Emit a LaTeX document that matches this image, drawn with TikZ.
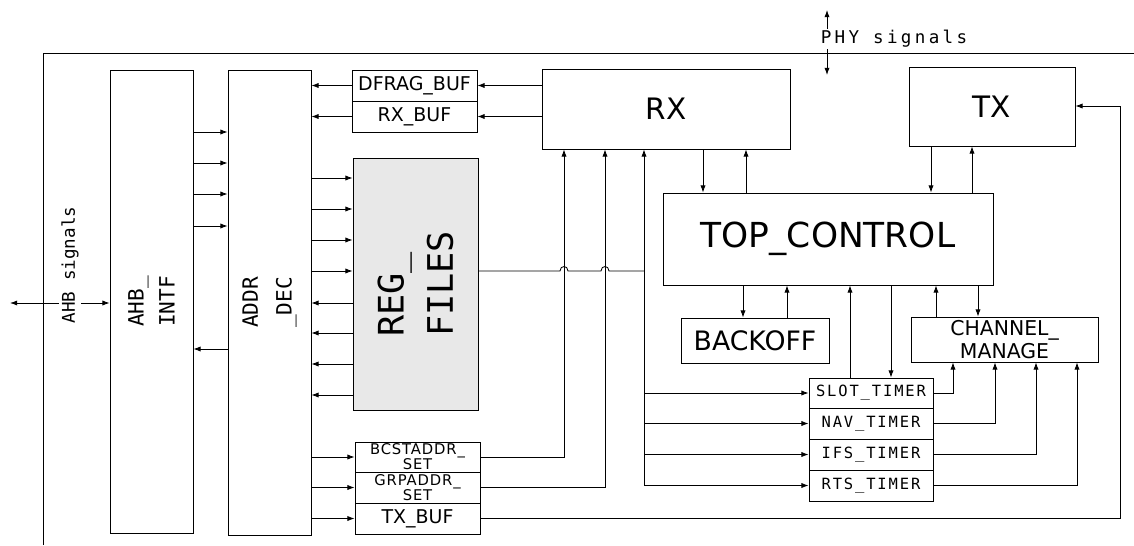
\documentclass[tikz,border=0pt]{standalone}
\usepackage{fontspec}
\setmainfont{DejaVu Sans}
\newfontfamily\monofont{DejaVu Sans Mono}
\newfontfamily\phyfont[LetterSpace=19]{DejaVu Sans Mono}
\newfontfamily\timerfont[LetterSpace=12]{DejaVu Sans Mono}
\newfontfamily\setfont[LetterSpace=6]{DejaVu Sans}
\usetikzlibrary{arrows.meta,fit}

\begin{document}
\begin{tikzpicture}[x=0.025cm,y=-0.025cm,>={Latex[length=1.8mm,width=1.3mm]},line width=0.6pt,
  blk/.style={draw,inner sep=0pt,fit={#1}},
  vlabel/.style={rotate=90,align=left,inner sep=0pt},
  small/.style={font=\fontsize{13.5}{15}\selectfont},
  twoline/.style={align=center,inner sep=0pt,font=\setfont\fontsize{10.5}{10.8}\selectfont},
  tmr/.style={font=\timerfont\fontsize{11}{13}\selectfont}]
  \useasboundingbox (0,0) rectangle (1134,546);

  % chip boundary
  \draw (43,545) -- (43,53) -- (1134,53);

  % blocks
  \node[blk={(110,70) (193,533)}] (ahb) {};
  \node[vlabel,font=\monofont\fontsize{15}{22}\selectfont] at (ahb.center) {AHB\_\\INTF};
  \node[blk={(228,70) (311,535)}] (addr) {};
  \node[vlabel,font=\monofont\fontsize{15}{24}\selectfont] at (addr.center) {ADDR\\\_DEC};
  \node[blk={(352,70) (477,101)},label={[small]center:DFRAG\_BUF}] (dfrag) {};
  \node[blk={(352,101) (477,132)},label={[small]center:RX\_BUF}] (rxbuf) {};
  \node[blk={(353,158) (478,410)},fill=gray!18] (reg) {};
  \node[vlabel,font=\monofont\fontsize{25}{35}\selectfont] at (reg.center) {REG\_\\FILES};
  \node[blk={(355,442) (480,472)},label={[twoline]center:{BCSTADDR\_\\SET}}] (bcst) {};
  \node[blk={(355,472) (480,503)},label={[twoline]center:{GRPADDR\_\\SET}}] (grp) {};
  \node[blk={(355,503) (480,534)},label={[small]center:TX\_BUF}] (txbuf) {};
  \node[blk={(542,69) (790,149)},label={[font=\fontsize{21}{24}\selectfont]center:RX}] (rx) {};
  \node[blk={(909,67) (1075,146)},label={[font=\fontsize{21}{24}\selectfont]center:TX}] (tx) {};
  \node[blk={(663,193) (993,285)},label={[font=\fontsize{24.5}{28}\selectfont]center:TOP\_CONTROL}] (top) {};
  \node[blk={(681,318) (829,363)},label={[font=\fontsize{19}{22}\selectfont]center:BACKOFF}] (backoff) {};
  \node[blk={(911,317) (1098,362)},label={[align=center,font=\fontsize{14.5}{15.8}\selectfont]center:{CHANNEL\_\\MANAGE}}] (cm) {};
  \node[blk={(809,378) (933,408)},label={[tmr]center:SLOT\_TIMER}] (slot) {};
  \node[blk={(809,408) (933,439)},label={[tmr]center:NAV\_TIMER}] (nav) {};
  \node[blk={(809,439) (933,470)},label={[tmr]center:IFS\_TIMER}] (ifs) {};
  \node[blk={(809,470) (933,501)},label={[tmr]center:RTS\_TIMER}] (rts) {};

  % external signals
  \coordinate (ahbext) at (10,303);
  \draw[<->] (ahbext) -- (ahb.west |- ahbext);
  \node[vlabel,fill=white,inner sep=2pt,font=\monofont\fontsize{12.5}{14}\selectfont] (ahbsig) at (70,265) {AHB signals};
  \coordinate (phyext) at (827,10);
  \coordinate (phyint) at (827,75);
  \draw[<->] (phyext) -- (phyint);
  \node[fill=white,inner sep=1pt,font=\phyfont\fontsize{12.5}{14}\selectfont] (physig) at (894,39) {PHY signals};

  % bus interface <-> decoder
  \foreach \y in {132,163,194,226}
    \draw[->] (ahb.east |- 0,\y) -- (addr.west |- 0,\y);
  \draw[->] (addr.west |- 0,349) -- (ahb.east |- 0,349);

  % decoder <-> buffers and register files
  \draw[->] (dfrag.west) -- (addr.east |- dfrag.west);
  \draw[->] (rxbuf.west) -- (addr.east |- rxbuf.west);
  \draw[->] (rx.west |- dfrag.east) -- (dfrag.east);
  \draw[->] (rx.west |- rxbuf.east) -- (rxbuf.east);
  \foreach \y in {178,209,240,271}
    \draw[->] (addr.east |- 0,\y) -- (reg.west |- 0,\y);
  \foreach \y in {303,333,364,395}
    \draw[->] (reg.west |- 0,\y) -- (addr.east |- 0,\y);
  \foreach \b in {bcst,grp,txbuf}
    \draw[->] (addr.east |- \b.west) -- (\b.west);

  % address sets and register files -> RX / timers
  \draw[->] (bcst.east) -| (rx.south -| 564,0);
  \draw[->] (grp.east) -| (rx.south -| 605,0);
  \draw[->] (rts.west -| 644,0) -- (rx.south -| 644,0);
  \draw (reg.east |- 0,271) -- (560,271) .. controls (560,265) and (568,265) .. (568,271)
    -- (601,271) .. controls (601,265) and (609,265) .. (609,271) -- (644,271);
  \foreach \t in {slot,nav,ifs,rts}
    \draw[->] (\t.west -| 644,0) -- (\t.west);

  % control paths
  \draw[->] (rx.south -| 703,0) -- (top.north -| 703,0);
  \draw[->] (top.north -| 746,0) -- (rx.south -| 746,0);
  \draw[->] (tx.south -| 931,0) -- (top.north -| 931,0);
  \draw[->] (top.north -| 972,0) -- (tx.south -| 972,0);
  \draw[->] (top.south -| 743,0) -- (backoff.north -| 743,0);
  \draw[->] (backoff.north -| 787,0) -- (top.south -| 787,0);
  \draw[->] (slot.north -| 850,0) -- (top.south -| 850,0);
  \draw[->] (top.south -| 891,0) -- (slot.north -| 891,0);
  \draw[->] (cm.north -| 936,0) -- (top.south -| 936,0);
  \draw[->] (top.south -| 978,0) -- (cm.north -| 978,0);

  % timers -> channel manager
  \draw[->] (slot.east) -| (cm.south -| 953,0);
  \draw[->] (nav.east) -| (cm.south -| 995,0);
  \draw[->] (ifs.east) -| (cm.south -| 1036,0);
  \draw[->] (rts.east) -| (cm.south -| 1077,0);

  % transmit buffer -> TX
  \coordinate (txturn) at (1120,106);
  \draw[->] (txbuf.east) -| (txturn) -- (tx.east |- txturn);
\end{tikzpicture}
\end{document}
